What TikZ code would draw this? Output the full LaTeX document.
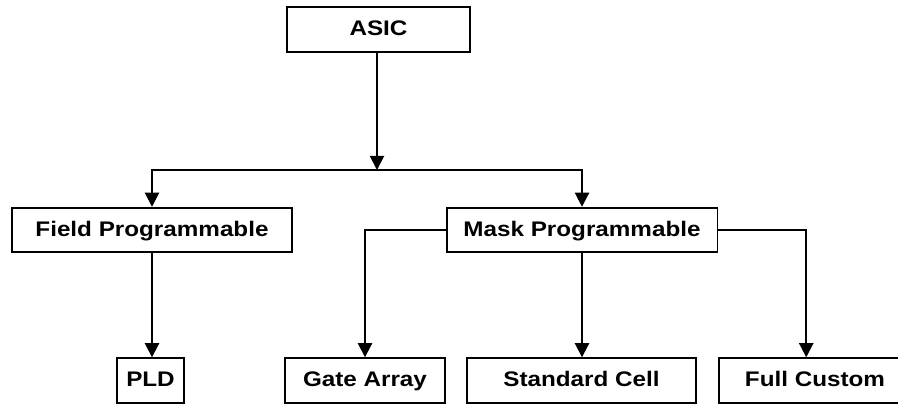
\documentclass[tikz,border=0pt]{standalone}
\usepackage{fontspec}
\newfontfamily\boxfont[FakeStretch=1.15]{Liberation Sans Bold}
\usepackage{tikz}
\usetikzlibrary{arrows.meta, positioning}

\begin{document}
\begin{tikzpicture}[
  x=0.02cm, y=-0.02cm,
  tbox/.style={draw, line width=1.1pt, minimum height=0.89cm, inner sep=0pt, text height=1.8ex, text depth=0.1ex, font=\boxfont\fontsize{12}{14}\selectfont},
  arr/.style={line width=1.1pt, -{Triangle[width=8pt, length=8pt]}}
]
  \useasboundingbox (0,0) rectangle (898,405);
  \node[tbox, minimum width=3.66cm] (asic) at (378.5, 29.5) {ASIC};
  \node[tbox, minimum width=5.6cm] (field) at (152, 230) {Field Programmable};
  \node[tbox, minimum width=5.42cm] (mask) at (582, 230) {Mask Programmable};
  \node[tbox, minimum width=1.34cm] (pld) at (150.5, 380.5) {PLD};
  \node[tbox, minimum width=3.2cm] (gate) at (365, 380.5) {Gate Array};
  \node[tbox, minimum width=4.58cm] (std) at (581.5, 380.5) {Standard Cell};
  \node[tbox, minimum width=3.84cm] (full) at (815, 380.5) {Full Custom};
  \coordinate (j) at (377, 170);

  \draw[arr] (asic.south -| j) -- (j);
  \draw[arr] (j) -| (field);
  \draw[arr] (j) -| (mask);
  \draw[arr] (field.south) -- (field.south |- pld.north);
  \draw[arr] (mask.west) -| (gate);
  \draw[arr] (mask.south) -- (mask.south |- std.north);
  \draw[arr] (mask.east) -| ([xshift=-5] full.north);
\end{tikzpicture}
\end{document}
